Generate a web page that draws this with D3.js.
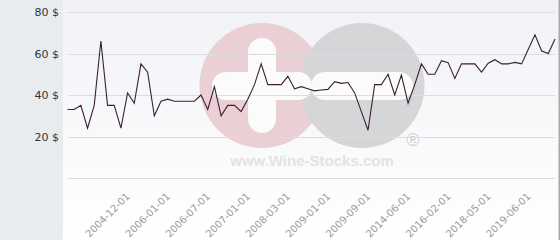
<!DOCTYPE html>
<html>
<head>
<meta charset="utf-8">
<script src="https://d3js.org/d3.v7.min.js"></script>
<style>
  body { margin: 0; background: #fff; }
  svg { display: block; }
</style>
</head>
<body>
<div id="chart"></div>
<script>
var width = 560, height = 240;

// price per bottle, one value per category (74 points)
var prices = [
  33, 33, 35, 24, 35, 66, 35, 35, 24, 41,
  36, 55, 51, 30, 37, 38, 37, 37, 37, 37,
  40, 33, 44, 30, 35, 35, 32, 38, 45, 55,
  45, 45, 45, 49, 43, 44, 43, 42, 42.4, 42.7,
  46.4, 45.6, 46, 41, 32, 23, 45, 45, 50, 40,
  49.6, 36, 45, 55, 50, 50, 56.5, 55.6, 48, 55,
  55, 55, 51, 55.3, 57, 55, 55, 55.7, 55, 62,
  69, 61.2, 60, 67
];

// every 6th category carries a label, starting at category 9
var tickLabels = ["2004-12-01", "2006-01-01", "2006-07-01", "2007-01-01", "2008-03-01",
  "2009-01-01", "2009-09-01", "2014-06-01", "2016-02-01", "2018-05-01", "2019-06-01"];
var tickIndex = tickLabels.map(function(d, i) { return 9 + i * 6; });

var yTicks = [0, 20, 40, 60, 80];

var plotLeft = 67.5, plotRight = 555, plotTop = 12, plotBottom = 178;

var x = d3.scaleLinear().domain([0, prices.length - 1]).range([plotLeft, plotRight]);
var y = d3.scaleLinear().domain([0, 80]).range([plotBottom, plotTop]);

var svg = d3.select("#chart").append("svg")
  .attr("width", width)
  .attr("height", height);

var defs = svg.append("defs");
var grad = defs.append("linearGradient")
  .attr("id", "bg").attr("x1", 0).attr("y1", 0).attr("x2", 0).attr("y2", 1);
grad.append("stop").attr("offset", "0%").attr("stop-color", "#f1f2f6");
grad.append("stop").attr("offset", "100%").attr("stop-color", "#ffffff");

// backgrounds
svg.append("rect").attr("x", 63).attr("y", 0).attr("width", width - 63).attr("height", height)
  .attr("fill", "url(#bg)");
svg.append("rect").attr("x", 0).attr("y", 0).attr("width", 63).attr("height", height)
  .attr("fill", "#e8ecef");
svg.append("rect").attr("x", 558.5).attr("y", 0).attr("width", 1.5).attr("height", height)
  .attr("fill", "#a9a9a9");

// watermark
var wm = svg.append("g");
var cy = 85.5, r = 62.5;
wm.append("circle").attr("cx", 262).attr("cy", cy).attr("r", r).attr("fill", "#eacfd5");
wm.append("circle").attr("cx", 362).attr("cy", cy).attr("r", r).attr("fill", "#d6d6d8");
// plus
wm.append("rect").attr("x", 248).attr("y", 38).attr("width", 28).attr("height", 95)
  .attr("rx", 14).attr("fill", "#fbfbfc");
wm.append("rect").attr("x", 212).attr("y", 72).attr("width", 100).attr("height", 28)
  .attr("rx", 14).attr("fill", "#fbfbfc");
// minus
wm.append("rect").attr("x", 311).attr("y", 72).attr("width", 102).attr("height", 28)
  .attr("rx", 14).attr("fill", "#fbfbfc");
wm.append("text").attr("x", 413).attr("y", 146).attr("text-anchor", "middle")
  .style("font-family", "Liberation Sans, Arial, sans-serif").style("font-size", "18px")
  .attr("fill", "#cfcfd1").text("®");
wm.append("text").attr("x", 312).attr("y", 166).attr("text-anchor", "middle")
  .style("font-family", "Liberation Sans, Arial, sans-serif").style("font-size", "15px")
  .style("font-weight", "bold").attr("fill", "#e3e3e5").text("www.Wine-Stocks.com");

// grid
svg.append("g").selectAll("line").data(yTicks).enter().append("line")
  .attr("x1", 68).attr("x2", plotRight)
  .attr("y1", function(d) { return Math.round(y(d)) + 0.5; })
  .attr("y2", function(d) { return Math.round(y(d)) + 0.5; })
  .attr("stroke", "#dcdde0").attr("stroke-width", 1);

// y labels
svg.append("g").selectAll("text").data(yTicks.filter(function(d) { return d > 0; }))
  .enter().append("text")
  .attr("x", 59).attr("y", function(d) { return y(d) + 4; })
  .attr("text-anchor", "end")
  .style("font-family", "DejaVu Sans, sans-serif").style("font-size", "11px")
  .attr("fill", "#333")
  .text(function(d) { return d + " $"; });

// x labels
svg.append("g").selectAll("text").data(tickLabels).enter().append("text")
  .attr("transform", function(d, i) {
    return "translate(" + (x(tickIndex[i]) + 3) + ",197) rotate(-45)";
  })
  .attr("text-anchor", "end")
  .style("font-family", "DejaVu Sans, sans-serif").style("font-size", "10px")
  .attr("fill", "#9a9a9a")
  .text(function(d) { return d; });

// price line
var line = d3.line()
  .x(function(d, i) { return x(i); })
  .y(function(d) { return y(d); });

svg.append("path").datum(prices)
  .attr("d", line)
  .attr("fill", "none")
  .attr("stroke", "#3a2030")
  .attr("stroke-width", 1.1)
  .attr("stroke-linejoin", "miter");
</script>
</body>
</html>
